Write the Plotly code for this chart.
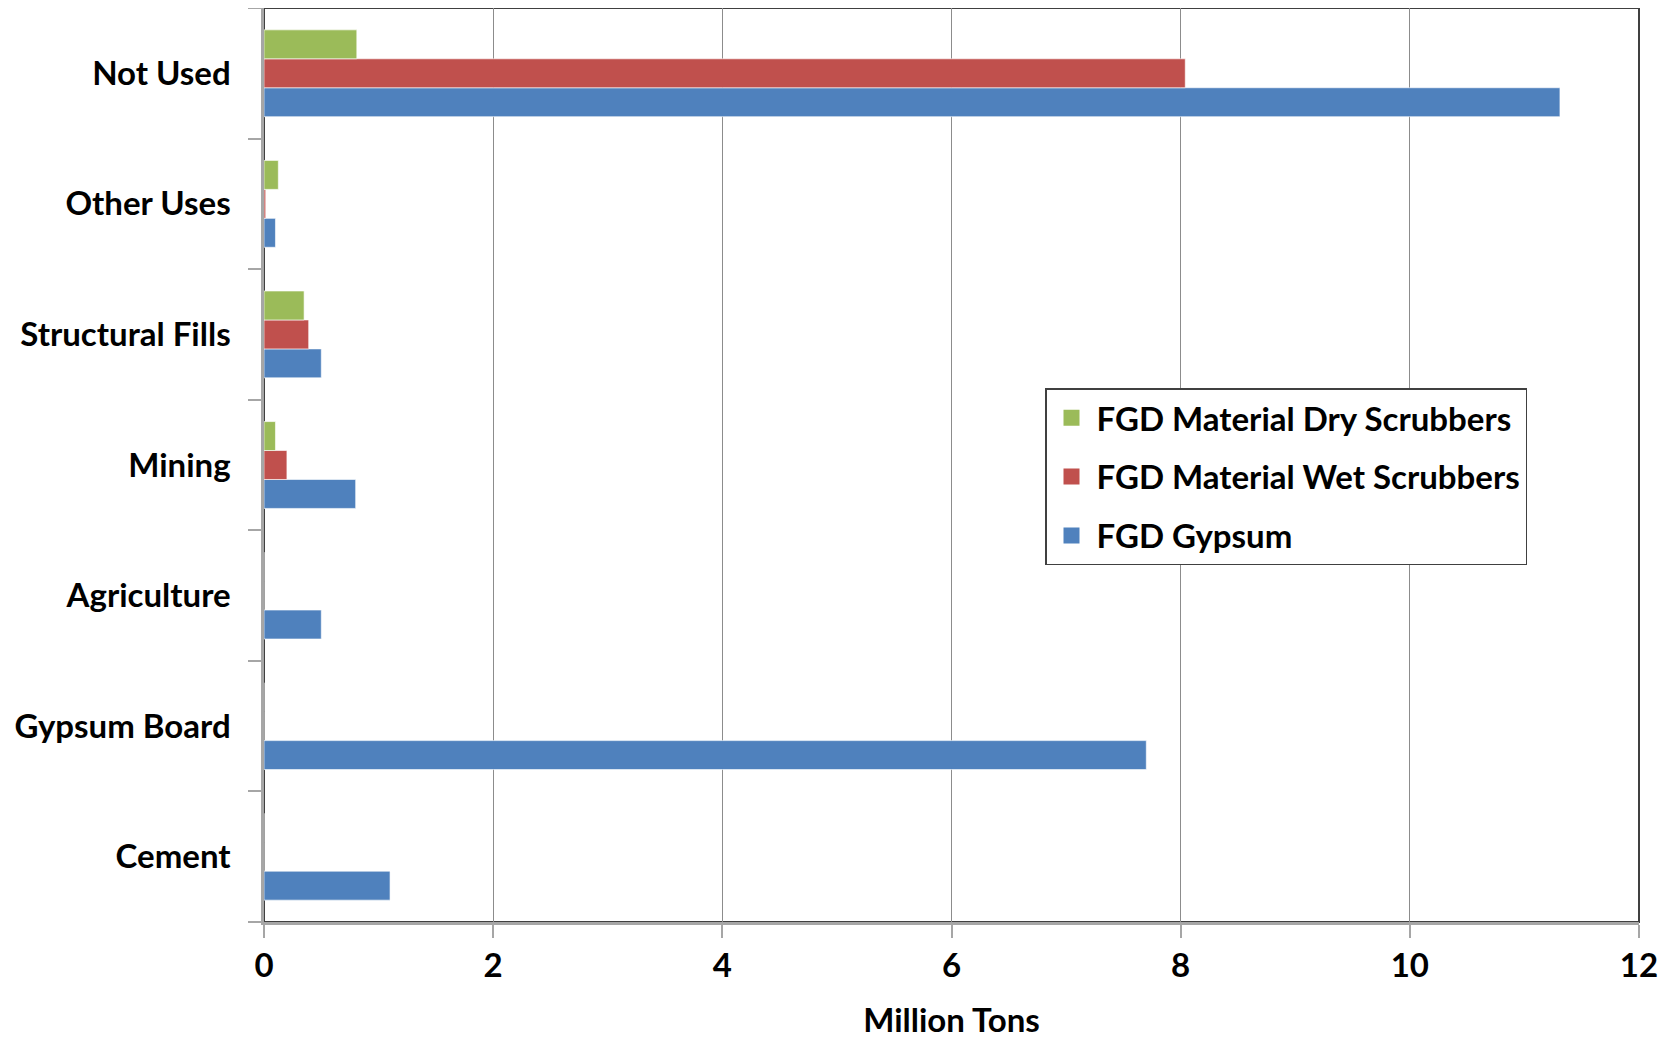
import plotly.graph_objects as go

categories = ["Cement", "Gypsum Board", "Agriculture", "Mining",
              "Structural Fills", "Other Uses", "Not Used"]
fgd_gypsum = [1.10, 7.70, 0.50, 0.80, 0.50, 0.10, 11.31]
fgd_wet = [0, 0, 0, 0.20, 0.39, 0.015, 8.04]
fgd_dry = [0, 0, 0, 0.10, 0.35, 0.125, 0.81]

series_names = ["FGD Gypsum", "FGD Material Wet Scrubbers", "FGD Material Dry Scrubbers"]
series_values = [fgd_gypsum, fgd_wet, fgd_dry]
series_colors = ["#4F81BD", "#C0504D", "#9BBB59"]
legend_ranks = [3, 2, 1]

x_ticks = [0, 2, 4, 6, 8, 10, 12]

FONT = "Lato"
FS = 33

fig = go.Figure()
for name, vals, col in zip(series_names, series_values, series_colors):
    fig.add_trace(go.Bar(
        y=categories, x=vals, name=name, orientation="h",
        marker=dict(color=col, line=dict(color="rgba(255,255,255,0.6)", width=1)),
        showlegend=False,
    ))
# legend swatches
for name, col, rk in zip(series_names, series_colors, legend_ranks):
    fig.add_trace(go.Scatter(
        x=[None], y=[None], mode="markers", name=name,
        marker=dict(symbol="square", size=20, color=col),
        legendgroup=name, legendrank=rk, showlegend=True,
    ))

fig.update_layout(
    width=1677, height=1037,
    margin=dict(l=256, r=46, t=0, b=123),
    paper_bgcolor="white", plot_bgcolor="white",
    barmode="group", bargap=0.335, bargroupgap=0,
    font=dict(family=FONT, size=FS, color="black"),
    legend=dict(
        x=0.568, y=0.584, xanchor="left", yanchor="top",
        traceorder="grouped", tracegroupgap=13,
        bgcolor="white", bordercolor="#404040", borderwidth=1.5,
        font=dict(family=FONT, size=FS, color="black", weight="bold"),
        entrywidth=506, entrywidthmode="pixels", itemwidth=40,
    ),
    shapes=[dict(type="rect", xref="paper", yref="paper", x0=0, x1=1, y0=0, y1=1,
                 line=dict(color="#404040", width=2), layer="below")],
)

fig.update_xaxes(
    range=[0, 12], tickvals=x_ticks, ticktext=[str(t) for t in x_ticks],
    showgrid=True, gridcolor="#8C8C8C", gridwidth=1,
    showline=True, linecolor="#A6A6A6", linewidth=2.5,
    ticks="outside", ticklen=13, tickcolor="#A6A6A6", tickwidth=1.5,
    tickfont=dict(family=FONT, size=FS, color="black", weight="bold"),
    zeroline=False,
    title=dict(text="Million Tons", font=dict(family=FONT, size=FS, color="black", weight="bold"),
               standoff=26),
)
fig.update_yaxes(
    categoryorder="array", categoryarray=categories,
    showline=True, linecolor="#A6A6A6", linewidth=2.5,
    ticks="outside", tickson="boundaries", ticklen=13, tickcolor="#A6A6A6", tickwidth=1.5,
    tickfont=dict(family=FONT, size=FS, color="black", weight="bold"),
    showgrid=False, ticklabelstandoff=24,
)

fig.write_html("out.html")
